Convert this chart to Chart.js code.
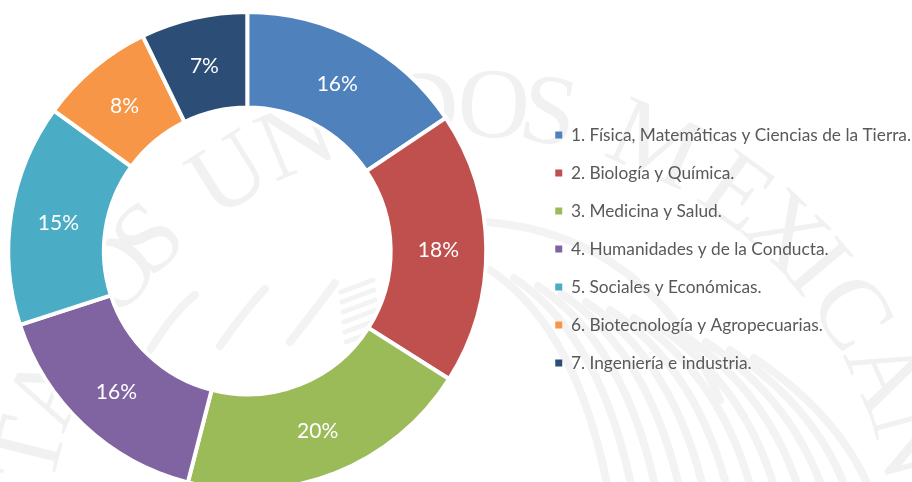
<!DOCTYPE html>
<html lang="es">
<head>
    <meta charset="UTF-8">
    <title>Áreas</title>
    <script src="https://cdn.jsdelivr.net/npm/chart.js"></script>
    <style>
        html, body { margin: 0; padding: 0; background: #fff; overflow: hidden; height: 482px; }
        canvas { display: block; }
    </style>
</head>
<body>
    <canvas id="areas" width="912" height="502"></canvas>

    <script>
        const categories = [
            '1. Física, Matemáticas y Ciencias de la Tierra.',
            '2. Biología y Química.',
            '3. Medicina y Salud.',
            '4. Humanidades y de la Conducta.',
            '5. Sociales y Económicas.',
            '6. Biotecnología y Agropecuarias.',
            '7. Ingeniería e industria.'
        ];
        const values = [15.6, 18.4, 20, 16, 15, 7.8, 7.2];
        const colors = ['#4F81BD', '#C0504D', '#9BBB59', '#8064A2', '#4BACC6', '#F79646', '#2C4D75'];

        // marca de agua: letra y angulo sobre el arco
        const sealLetters = ['T', 'A', 'D', 'O', 'S', 'U', 'N', 'I', 'D', 'O', 'S', 'M', 'E', 'X', 'I', 'C', 'A', 'N'];
        const sealAngles = [-76, -68, -60, -51, -45, -32, -22.5, -14, -6, 3, 10, 24, 36, 44, 50, 57, 66, 75];

        const watermark = {
            id: 'watermark',
            beforeDraw(chart) {
                const ctx = chart.ctx;
                ctx.save();
                ctx.fillStyle = '#f1f1f1';
                ctx.font = '100px "Liberation Serif"';
                ctx.textAlign = 'center';
                ctx.textBaseline = 'middle';
                sealLetters.forEach((ch, i) => {
                    const a = sealAngles[i] * Math.PI / 180;
                    ctx.save();
                    ctx.translate(470 + 450 * Math.sin(a), 560 - 450 * Math.cos(a));
                    ctx.rotate(a);
                    ctx.fillText(ch, 0, 0);
                    ctx.restore();
                });

                // plumas del aguila
                ctx.strokeStyle = '#f3f3f3';
                ctx.lineCap = 'round';
                ctx.lineWidth = 8;
                for (let i = 0; i < 12; i++) {
                    const x = 490 + i * 24;
                    const y = 270 + i * 8;
                    ctx.beginPath();
                    ctx.moveTo(x, y);
                    ctx.quadraticCurveTo(x + 90, y + 60, x + 120, 500);
                    ctx.stroke();
                }
                ctx.beginPath();
                ctx.moveTo(486, 222);
                ctx.quadraticCurveTo(650, 235, 720, 400);
                ctx.stroke();
                ctx.lineWidth = 5;
                for (let i = 0; i < 6; i++) {
                    ctx.beginPath();
                    ctx.moveTo(346 - i, 342 - i * 10);
                    ctx.lineTo(378 - i, 330 - i * 10);
                    ctx.stroke();
                }
                ctx.lineWidth = 8;
                for (let i = 0; i < 3; i++) {
                    ctx.beginPath();
                    ctx.moveTo(150 + i * 70, 350 - i * 4);
                    ctx.quadraticCurveTo(175 + i * 70, 310, 195 + i * 70, 295 - i * 6);
                    ctx.stroke();
                }
                ctx.restore();
            }
        };

        const sliceLabels = {
            id: 'sliceLabels',
            afterDatasetsDraw(chart) {
                const ctx = chart.ctx;
                ctx.save();
                ctx.fillStyle = '#fff';
                ctx.font = '21px Lato';
                ctx.textAlign = 'center';
                ctx.textBaseline = 'middle';
                chart.getDatasetMeta(0).data.forEach((arc, i) => {
                    const p = arc.getCenterPoint();
                    ctx.fillText(Math.round(values[i]) + '%', p.x, p.y + 2);
                });
                ctx.restore();
            }
        };

        // la leyenda va mas a la derecha que su caja de layout
        const moveLegend = {
            id: 'moveLegend',
            afterLayout(chart) {
                chart.legend.left += 40;
                chart.legend.right += 40;
                chart.legend.top -= 2;
                chart.legend.bottom -= 2;
            }
        };

        new Chart(document.getElementById('areas'), {
            type: 'doughnut',
            data: {
                labels: categories,
                datasets: [{
                    data: values,
                    backgroundColor: colors,
                    borderColor: '#fff',
                    borderWidth: 4
                }]
            },
            options: {
                responsive: false,
                animation: false,
                cutout: '60%',
                layout: { padding: { right: 31, top: 10, bottom: 10 } },
                plugins: {
                    tooltip: { enabled: false },
                    legend: {
                        position: 'right',
                        labels: {
                            boxWidth: 7,
                            boxHeight: 7,
                            padding: 20.7,
                            color: '#595959',
                            font: { family: 'Lato', size: 17.3 },
                            generateLabels: () => categories.map((text, i) => ({
                                text: text,
                                fillStyle: colors[i],
                                strokeStyle: colors[i],
                                fontColor: '#595959',
                                lineWidth: 0,
                                index: i
                            }))
                        }
                    }
                }
            },
            plugins: [watermark, moveLegend, sliceLabels]
        });
    </script>
</body>
</html>
